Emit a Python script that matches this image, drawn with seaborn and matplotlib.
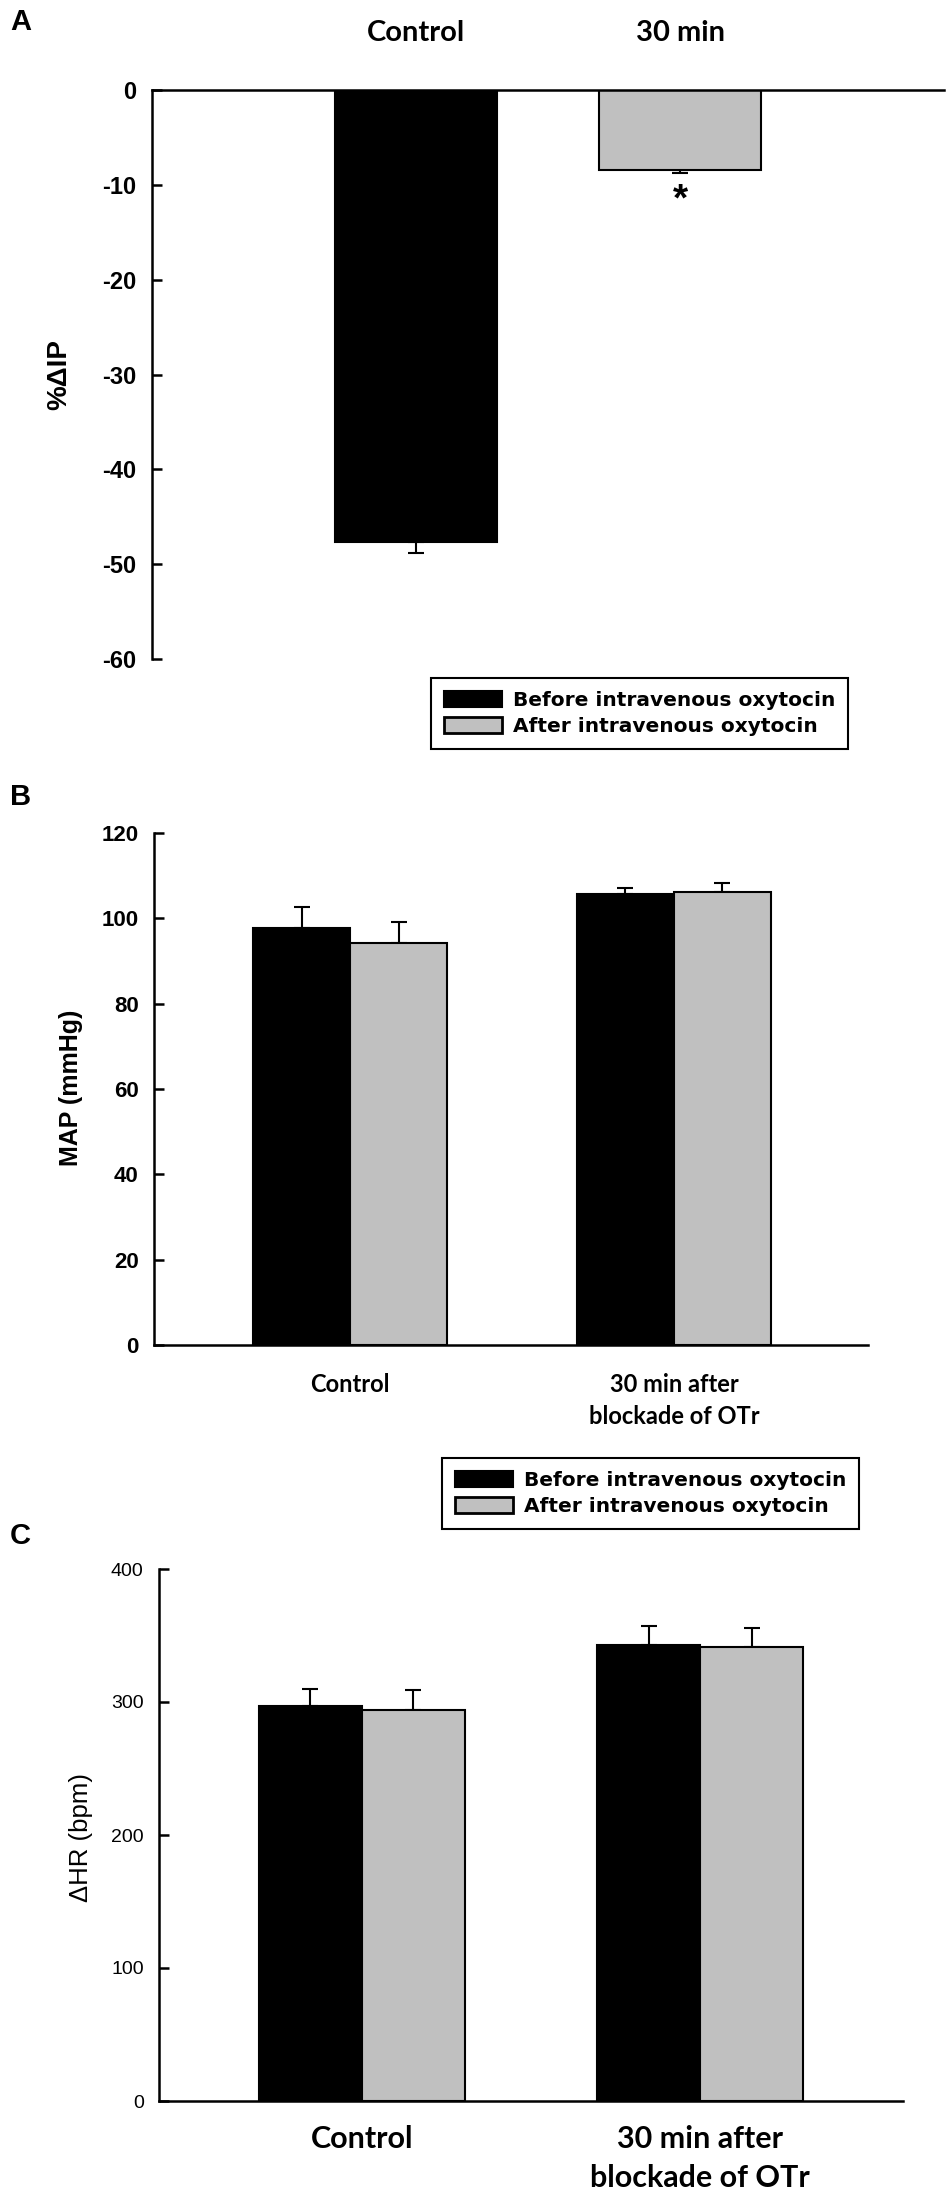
import matplotlib
matplotlib.use('Agg')
import matplotlib.pyplot as plt
import seaborn as sns
import pandas as pd
from matplotlib.patches import Patch

# ---------------- data ----------------
a_categories = ['Control', '30 min']
a_values = [-47.7, -8.4]
a_errors = [1.1, 0.4]

bc_categories = ['Control', '30 min after\nblockade of OTr']
conditions = ['Before intravenous oxytocin', 'After intravenous oxytocin']

map_before = [97.8, 105.7]
map_after = [94.3, 106.2]
map_before_err = [4.9, 1.5]
map_after_err = [4.9, 2.1]

hr_before = [297, 343]
hr_after = [294, 341]
hr_before_err = [13, 14]
hr_after_err = [15, 15]

a_yticks = [-60, -50, -40, -30, -20, -10, 0]
b_yticks = [0, 20, 40, 60, 80, 100, 120]
c_yticks = [0, 100, 200, 300, 400]

colors = ['black', '#c0c0c0']

# ---------------- style ----------------
sns.set_style('white')
plt.rcParams['font.family'] = ['Liberation Sans', 'DejaVu Sans']
plt.rcParams['axes.unicode_minus'] = False
for k in ['text.color', 'axes.labelcolor', 'xtick.color', 'ytick.color', 'axes.edgecolor']:
    plt.rcParams[k] = 'black'

W, H = 950, 2206
fig = plt.figure(figsize=(W / 100, H / 100), dpi=100)


def rect(l, r, t, b):
    return [l / W, 1 - b / H, (r - l) / W, (b - t) / H]


LATO = ['Lato', 'DejaVu Sans']
SPW = 1.8


def add_errorbars(ax, df, errs):
    for p in ax.patches:
        h = p.get_y() + p.get_height() if p.get_height() >= 0 else p.get_height()
        x = p.get_x() + p.get_width() / 2
        idx = (df['val'] - h).abs().idxmin()
        e = errs[idx]
        yerr = [[e], [0]] if h < 0 else [[0], [e]]
        ax.errorbar([x], [h], yerr=yerr, fmt='none', ecolor='black',
                    elinewidth=1.5, capsize=6, capthick=1.5, zorder=0.5)


def legend_at(x, y):
    handles = [Patch(facecolor='black', edgecolor='black', linewidth=1.5),
               Patch(facecolor='#c0c0c0', edgecolor='black', linewidth=2)]
    leg = fig.legend(handles, conditions, loc='upper left',
                     bbox_to_anchor=(x / W, 1 - y / H), borderaxespad=0,
                     frameon=True, fancybox=False, edgecolor='black', framealpha=1,
                     prop={'family': 'DejaVu Sans', 'weight': 'bold', 'size': 14.5},
                     handlelength=2.86, handleheight=0.84, handletextpad=0.54,
                     labelspacing=0.36, borderpad=0.65)
    leg.get_frame().set_linewidth(1.5)
    return leg


def style_y(ax, size, bold):
    ax.tick_params(axis='y', which='both', left=True, direction='in', length=7,
                   width=SPW, pad=11, labelsize=size)
    if bold:
        for lbl in ax.get_yticklabels():
            lbl.set_fontweight('bold')


# ---------------- Panel A ----------------
axA = fig.add_axes(rect(152, 944, 90, 659))
dfA = pd.DataFrame({'cat': a_categories, 'val': a_values})
sns.barplot(data=dfA, x='cat', y='val', hue='cat', palette=colors, dodge=False,
            width=0.61, edgecolor='black', linewidth=1.5, legend=False,
            errorbar=None, ax=axA)
add_errorbars(axA, dfA, a_errors)
axA.set_xlim(-1, 2)
axA.set_ylim(-60, 0)
axA.set_yticks(a_yticks)
axA.set_xlabel('')
axA.set_ylabel('')
axA.xaxis.tick_top()
axA.tick_params(axis='x', length=0, pad=32)
for lbl in axA.get_xticklabels():
    lbl.set_fontfamily(LATO)
    lbl.set_fontweight('bold')
    lbl.set_fontsize(21)
style_y(axA, 17, True)
for s in ['right', 'bottom']:
    axA.spines[s].set_visible(False)
for s in ['top', 'left']:
    axA.spines[s].set_linewidth(SPW)
    axA.spines[s].set_color('black')
gray_patch = axA.patches[1]
axA.text(gray_patch.get_x() + gray_patch.get_width() / 2, -11.7, '*',
         ha='center', va='center', fontsize=28, fontweight='bold')
legend_at(431, 678)

# ---------------- Panel B ----------------
axB = fig.add_axes(rect(154, 868, 833, 1345))
dfB = pd.DataFrame({'cat': bc_categories * 2,
                    'cond': [conditions[0]] * 2 + [conditions[1]] * 2,
                    'val': map_before + map_after})
sns.barplot(data=dfB, x='cat', y='val', hue='cond', order=bc_categories,
            hue_order=conditions, palette=colors, width=0.6, gap=0,
            edgecolor='black', linewidth=1.5, errorbar=None, legend=False, ax=axB)
add_errorbars(axB, dfB, map_before_err + map_after_err)
axB.set_xlim(-0.607, 1.6)
axB.set_ylim(0, 120)
axB.set_yticks(b_yticks)
axB.set_xlabel('')
axB.set_ylabel('')
axB.tick_params(axis='x', length=0, pad=20)
for lbl in axB.get_xticklabels():
    lbl.set_fontfamily(LATO)
    lbl.set_fontweight('bold')
    lbl.set_fontsize(17)
    lbl.set_linespacing(1.5)
style_y(axB, 16, True)
for s in ['right', 'top']:
    axB.spines[s].set_visible(False)
for s in ['bottom', 'left']:
    axB.spines[s].set_linewidth(SPW)
    axB.spines[s].set_color('black')
legend_at(442, 1458)

# ---------------- Panel C ----------------
axC = fig.add_axes(rect(159, 903, 1569, 2101))
dfC = pd.DataFrame({'cat': bc_categories * 2,
                    'cond': [conditions[0]] * 2 + [conditions[1]] * 2,
                    'val': hr_before + hr_after})
sns.barplot(data=dfC, x='cat', y='val', hue='cond', order=bc_categories,
            hue_order=conditions, palette=colors, width=0.61, gap=0,
            edgecolor='black', linewidth=1.5, errorbar=None, legend=False, ax=axC)
add_errorbars(axC, dfC, hr_before_err + hr_after_err)
axC.set_xlim(-0.6, 1.6)
axC.set_ylim(0, 400)
axC.set_yticks(c_yticks)
axC.set_xlabel('')
axC.set_ylabel('')
axC.tick_params(axis='x', length=0, pad=17)
for lbl in axC.get_xticklabels():
    lbl.set_fontfamily(LATO)
    lbl.set_fontweight('bold')
    lbl.set_fontsize(22)
    lbl.set_linespacing(1.5)
style_y(axC, 14, False)
for s in ['right', 'top']:
    axC.spines[s].set_visible(False)
for s in ['bottom', 'left']:
    axC.spines[s].set_linewidth(SPW)
    axC.spines[s].set_color('black')

# ---------------- labels ----------------
fig.text(10 / W, 1 - 22 / H, 'A', fontsize=21, fontweight='bold', va='center', ha='left')
fig.text(10 / W, 1 - 797 / H, 'B', fontsize=21, fontweight='bold', va='center', ha='left')
fig.text(10 / W, 1 - 1536 / H, 'C', fontsize=21, fontweight='bold', va='center', ha='left')

fig.text(59 / W, 1 - 375 / H, '%ΔIP', rotation=90, fontsize=20, fontweight='bold',
         ha='center', va='center')
fig.text(71 / W, 1 - 1088 / H, 'MAP (mmHg)', rotation=90, fontsize=18, fontweight='bold',
         ha='center', va='center')
fig.text(81 / W, 1 - 1837 / H, 'ΔHR (bpm)', rotation=90, fontsize=18.5,
         ha='center', va='center')

fig.savefig('out.png', dpi=100)
